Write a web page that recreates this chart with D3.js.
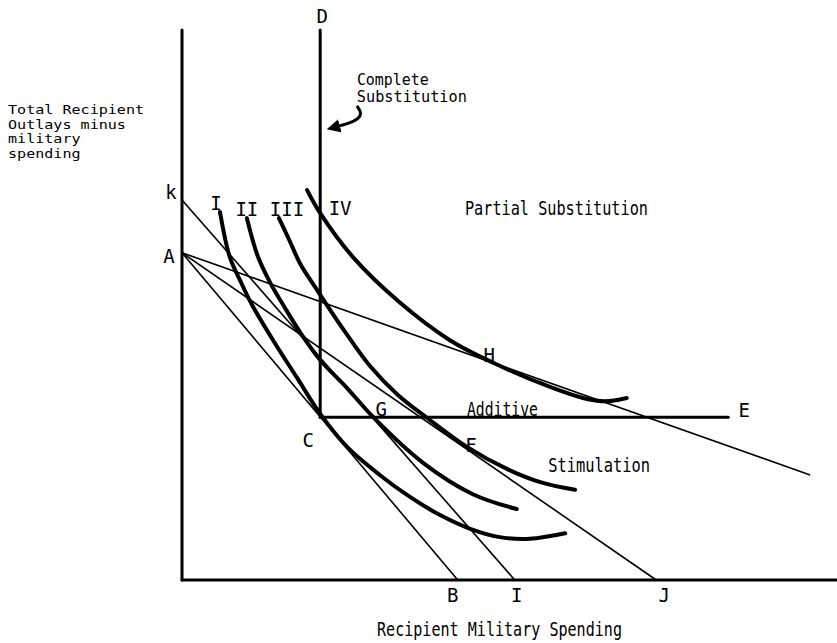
<!DOCTYPE html>
<html>
<head>
<meta charset="utf-8">
<script src="https://cdn.jsdelivr.net/npm/d3@7"></script>
<style>
  body { margin: 0; background: #fff; }
  svg text { font-family: "DejaVu Sans Mono", monospace; fill: #000; }
</style>
</head>
<body>
<svg width="837" height="643"></svg>
<script>
// chart units: both axes 0..10
let points = {
  O: [0, 0], yTop: [0, 10], xEnd: [10, 0],
  k: [0, 6.91], A: [0, 5.95],
  B: [4.21, 0], I: [5.08, 0], J: [7.24, 0],
  D: [2.11, 10], C: [2.11, 2.96], E: [8.34, 2.96],
  G: [2.92, 2.96], F: [4.35, 2.42], H: [4.75, 3.95],
  AHend: [9.59, 1.91]
}

let budgetLines = [['k', 'I'], ['A', 'B'], ['A', 'J'], ['A', 'AHend']]

let curveI = [[0.58, 6.69], [0.73, 5.87], [0.89, 5.44], [1.07, 5.00], [1.39, 4.36], [1.76, 3.67], [2.11, 3.02],
  [2.52, 2.42], [3.02, 1.91], [3.48, 1.51], [3.94, 1.18], [4.40, 0.93], [4.85, 0.78], [5.31, 0.75], [5.85, 0.85]]
let curveII = [[0.99, 6.58], [1.15, 5.91], [1.34, 5.42], [1.57, 4.95], [1.80, 4.51], [2.11, 4.00],
  [2.52, 3.49], [2.92, 2.96], [3.68, 2.13], [4.44, 1.56], [5.11, 1.29]]
let curveIII = [[1.48, 6.58], [1.65, 6.15], [1.80, 5.76], [2.08, 5.24], [2.49, 4.51], [2.87, 3.89],
  [3.30, 3.36], [3.74, 2.95], [4.35, 2.42], [4.96, 2.02], [5.47, 1.78], [6.00, 1.64]]
let curveIV = [[1.91, 7.09], [2.11, 6.67], [2.61, 5.87], [3.33, 5.04], [4.09, 4.36], [4.75, 3.95],
  [5.62, 3.51], [6.12, 3.31], [6.46, 3.25], [6.79, 3.31]]
let curveNames = ['I', 'II', 'III', 'IV']
let curves = [curveI, curveII, curveIII, curveIV]

let arrowPath = [[2.67, 8.62], [2.76, 8.47], [2.64, 8.33], [2.35, 8.24]]

// point labels: [text, point, dx, dy]
let pointLabels = [
  ['D', 'D', 2, -7], ['k', 'k', -11, -1], ['A', 'A', -13, 10],
  ['C', 'C', -12, 30], ['G', 'G', 8, -1], ['F', 'F', 4, 5], ['H', 'H', -4, -1],
  ['E', 'E', 16, 0], ['B', 'B', -5, 22], ['I', 'I', 2, 22], ['J', 'J', 8, 22]
]
let regionLabels = [
  // [text, x, y, width, size]
  ['Complete', 2.67, 9.0, 72, 15],
  ['Substitution', 2.67, 8.69, 110, 15],
  ['Partial Substitution', 4.32, 6.64, 183, 19],
  ['Additive', 4.35, 2.98, 71, 19],
  ['Stimulation', 5.59, 1.96, 102, 19]
]
let yTitle = ['Total Recipient', 'Outlays minus', 'military', 'spending']
let xTitle = 'Recipient Military Spending'

let svg = d3.select('svg')
let x = d3.scaleLinear().domain([0, 10]).range([182, 837])
let y = d3.scaleLinear().domain([0, 10]).range([580, 30])
let px = p => x(p[0])
let py = p => y(p[1])

svg.append('rect').attr('width', 837).attr('height', 643).attr('fill', '#fff')

// axes and the C corner lines
let thick = [['O', 'yTop'], ['O', 'xEnd'], ['D', 'C'], ['C', 'E']]
svg.selectAll('line.thick')
  .data(thick)
  .enter()
  .append('line')
  .attr('class', 'thick')
  .attr('x1', d => px(points[d[0]])).attr('y1', d => py(points[d[0]]))
  .attr('x2', d => px(points[d[1]])).attr('y2', d => py(points[d[1]]))
  .attr('stroke', '#000').attr('stroke-width', 3).attr('stroke-linecap', 'round')

svg.selectAll('line.budget')
  .data(budgetLines)
  .enter()
  .append('line')
  .attr('class', 'budget')
  .attr('x1', d => px(points[d[0]])).attr('y1', d => py(points[d[0]]))
  .attr('x2', d => px(points[d[1]])).attr('y2', d => py(points[d[1]]))
  .attr('stroke', '#000').attr('stroke-width', 1.6)

let line = d3.line().x(px).y(py).curve(d3.curveCatmullRom.alpha(0.5))
svg.selectAll('path.curve')
  .data(curves)
  .enter()
  .append('path')
  .attr('class', 'curve')
  .attr('d', line)
  .attr('fill', 'none').attr('stroke', '#000').attr('stroke-width', 4).attr('stroke-linecap', 'round')

// curve labels sit above the top of each curve
svg.selectAll('text.curveName')
  .data(curves)
  .enter()
  .append('text')
  .attr('class', 'curveName')
  .attr('x', (d, i) => px(d[0]) + [-4, 0, 8, 33][i])
  .attr('y', (d, i) => py(d[0]) - [2, 2, 2, -25][i])
  .attr('text-anchor', 'middle')
  .attr('font-size', 19)
  .text((d, i) => curveNames[i])

// arrow
let defs = svg.append('defs')
defs.append('marker')
  .attr('id', 'head').attr('viewBox', '0 0 10 10')
  .attr('refX', 3).attr('refY', 5).attr('markerWidth', 4.5).attr('markerHeight', 4.5)
  .attr('orient', 'auto')
  .append('path').attr('d', 'M0,0 L10,5 L0,10 z').attr('fill', '#000')
svg.append('path')
  .attr('d', d3.line().x(px).y(py).curve(d3.curveBasis)(arrowPath))
  .attr('fill', 'none').attr('stroke', '#000').attr('stroke-width', 3)
  .attr('marker-end', 'url(#head)')

svg.selectAll('text.pt')
  .data(pointLabels)
  .enter()
  .append('text')
  .attr('class', 'pt')
  .attr('x', d => px(points[d[1]]) + d[2])
  .attr('y', d => py(points[d[1]]) + d[3])
  .attr('text-anchor', 'middle')
  .attr('font-size', 19)
  .text(d => d[0])

svg.selectAll('text.region')
  .data(regionLabels)
  .enter()
  .append('text')
  .attr('class', 'region')
  .attr('x', d => x(d[1])).attr('y', d => y(d[2]))
  .attr('font-size', d => d[4])
  .attr('textLength', d => d[3]).attr('lengthAdjust', 'spacingAndGlyphs')
  .text(d => d[0])

svg.selectAll('text.ytitle')
  .data(yTitle)
  .enter()
  .append('text')
  .attr('class', 'ytitle')
  .attr('x', 8)
  .attr('y', (d, i) => 114 + i * 14.5)
  .attr('font-size', 13)
  .attr('textLength', d => d.length * 9.07).attr('lengthAdjust', 'spacingAndGlyphs')
  .text(d => d)

svg.append('text')
  .attr('x', 377).attr('y', 636)
  .attr('font-size', 19)
  .attr('textLength', 245).attr('lengthAdjust', 'spacingAndGlyphs')
  .text(xTitle)
</script>
</body>
</html>
